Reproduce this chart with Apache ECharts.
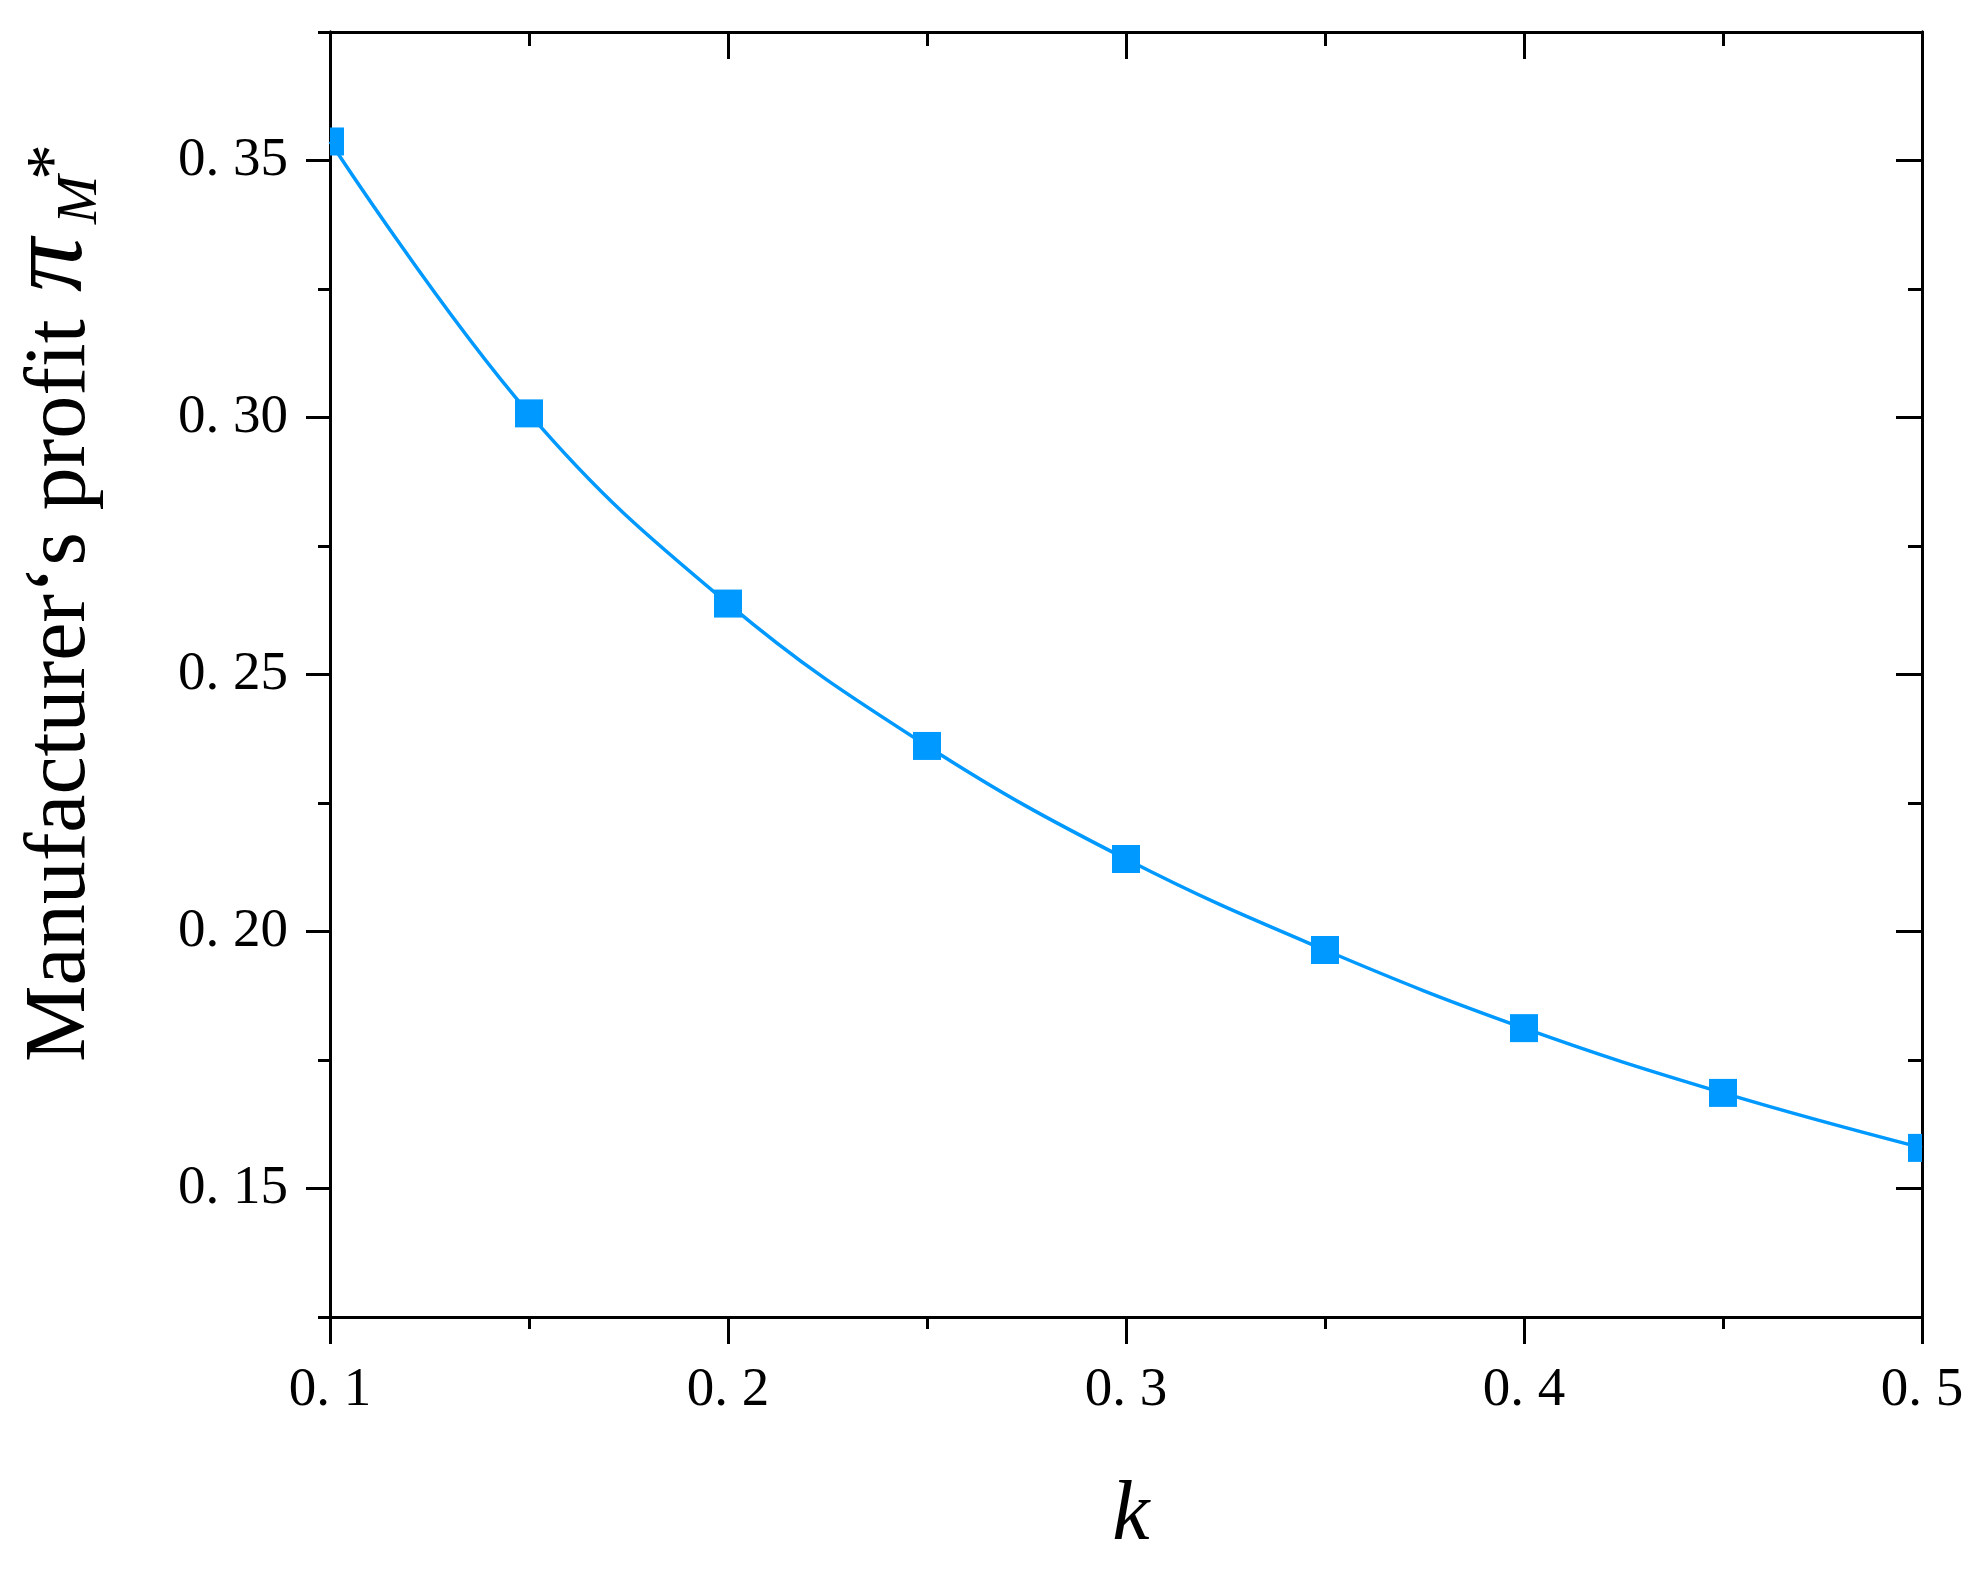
<!DOCTYPE html>
<html>
<head>
<meta charset="utf-8">
<script src="https://cdn.jsdelivr.net/npm/echarts@6/dist/echarts.min.js"></script>
<style>
  html, body { margin: 0; padding: 0; background: #fff; }
  #root { width: 1984px; height: 1574px; }
</style>
</head>
<body>
<div id="root"></div>
<script>
// data
const kValues = [0.1, 0.15, 0.2, 0.25, 0.3, 0.35, 0.4, 0.45, 0.5]
const profit = [0.3537, 0.3008, 0.2638, 0.2361, 0.2141, 0.1964, 0.1812, 0.1686, 0.1579]

// ticks
const xTicks = [0.1, 0.2, 0.3, 0.4, 0.5]
const xMinor = [0.15, 0.25, 0.35, 0.45]
const yTicks = [0.15, 0.2, 0.25, 0.3, 0.35]
const yMinor = [0.125, 0.175, 0.225, 0.275, 0.325, 0.375]

const blue = '#0099FF'
const black = '#000'
const serif = '"Liberation Serif", "Times New Roman", serif'
const markerSize = 28

const chart = echarts.init(document.getElementById('root'))

const axisLine = { show: true, lineStyle: { color: black, width: 3 } }

function xAxis(position, ticks, len, inside, label) {
  return {
    type: 'value', position: position, min: 0.1, max: 0.5,
    axisLine: axisLine,
    splitLine: { show: false },
    axisTick: { show: true, inside: inside, length: len, customValues: ticks, lineStyle: { color: black, width: 3 } },
    axisLabel: label
      ? { show: true, customValues: ticks, margin: 46, color: black, fontFamily: serif, fontSize: 55,
          formatter: v => v.toFixed(1).replace('.', '. ') }
      : { show: false }
  }
}

function yAxis(position, ticks, len, inside, label) {
  return {
    type: 'value', position: position, min: 0.125, max: 0.375,
    axisLine: axisLine,
    splitLine: { show: false },
    axisTick: { show: true, inside: inside, length: len, customValues: ticks, lineStyle: { color: black, width: 3 } },
    axisLabel: label
      ? { show: true, customValues: ticks, margin: 42, color: black, fontFamily: serif, fontSize: 55,
          formatter: v => v.toFixed(2).replace('.', '. ') }
      : { show: false }
  }
}

const xa = xAxis('bottom', xTicks, 27, false, true)
xa.name = 'k'
xa.nameLocation = 'middle'
xa.nameGap = 158
xa.nameTextStyle = { fontFamily: serif, fontStyle: 'italic', fontSize: 84, color: black, padding: [0, 0, 0, 10] }

const option = {
  backgroundColor: '#fff',
  animation: false,
  grid: { left: 330, top: 32, right: 62, bottom: 257, containLabel: false },
  xAxis: [
    xa,
    xAxis('bottom', xMinor, 12, false, false),
    xAxis('top', xTicks, 27, true, false),
    xAxis('top', xMinor, 14, true, false)
  ],
  yAxis: [
    yAxis('left', yTicks, 24, false, true),
    yAxis('left', yMinor, 12, false, false),
    yAxis('right', yTicks, 26, true, false),
    yAxis('right', yMinor, 14, true, false)
  ],
  series: [
    {
      type: 'line',
      xAxisIndex: 0, yAxisIndex: 0,
      data: kValues.map((k, i) => [k, profit[i]]),
      smooth: 0.4,
      showSymbol: false,
      lineStyle: { color: blue, width: 3.5 }
    },
    {
      // square markers, cut off at the frame like the original
      type: 'custom',
      xAxisIndex: 0, yAxisIndex: 0,
      data: kValues.map((k, i) => [k, profit[i]]),
      renderItem: (params, api) => {
        const p = api.coord([api.value(0), api.value(1)])
        const cs = params.coordSys
        const shape = echarts.graphic.clipRectByRect(
          { x: p[0] - markerSize / 2, y: p[1] - markerSize / 2, width: markerSize, height: markerSize },
          { x: cs.x, y: cs.y, width: cs.width, height: cs.height }
        )
        return shape && { type: 'rect', shape: shape, style: { fill: blue } }
      },
      z: 3
    }
  ],
  // y axis title with the pi*_M symbol
  graphic: [{
    type: 'group',
    x: 90, y: 1062,
    rotation: Math.PI / 2,
    children: [
      { type: 'text', x: 0, y: -29, style: { text: 'Manufacturer‘s profit', font: '86px ' + serif, fill: black, align: 'left', verticalAlign: 'middle' } },
      { type: 'text', x: 770, y: -37, style: { text: 'π', font: 'italic 108px ' + serif, fill: black, align: 'left', verticalAlign: 'middle' } },
      { type: 'text', x: 900, y: -34, style: { text: '*', font: '72px ' + serif, fill: black, align: 'center', verticalAlign: 'middle' } },
      { type: 'text', x: 838, y: -9, style: { text: 'M', font: 'italic 58px ' + serif, fill: black, align: 'left', verticalAlign: 'middle' } }
    ]
  }]
}

chart.setOption(option)
</script>
</body>
</html>
